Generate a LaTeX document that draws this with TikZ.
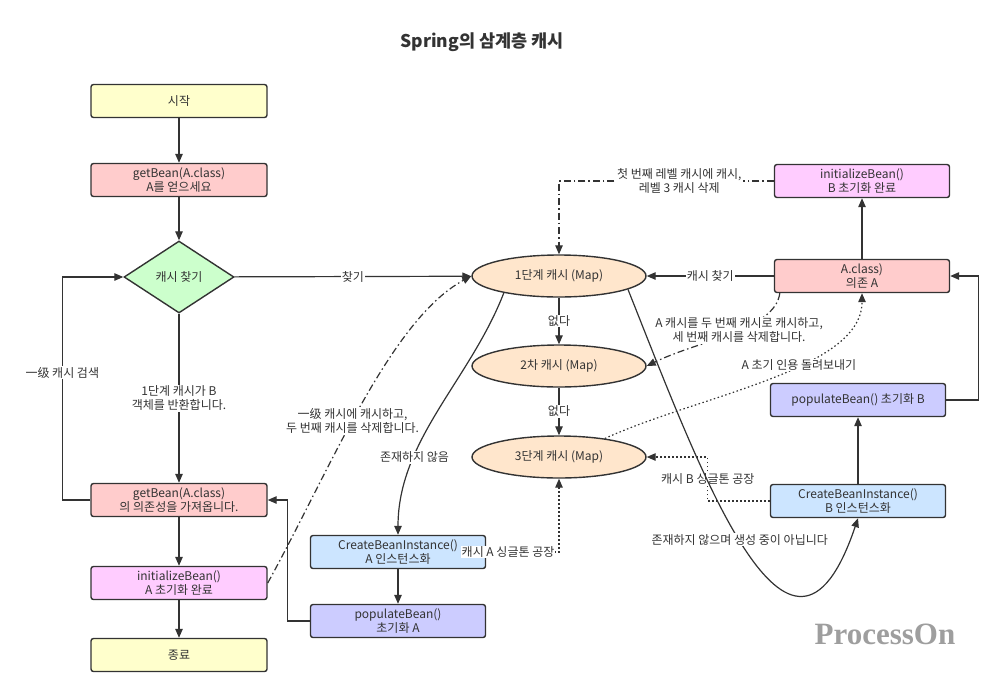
\documentclass[tikz,border=0pt]{standalone}
\usepackage{fontspec}
\setmainfont{Noto Sans CJK KR}
\newfontfamily\markfont{Liberation Serif}
\usetikzlibrary{arrows.meta, positioning, shapes.geometric}

\definecolor{linec}{HTML}{333333}
\definecolor{textc}{HTML}{333333}
\definecolor{yellowc}{HTML}{FFFFCC}
\definecolor{pinkc}{HTML}{FFCCCC}
\definecolor{greenc}{HTML}{CCFFCC}
\definecolor{violetc}{HTML}{FFCCFF}
\definecolor{peachc}{HTML}{FFE6CC}
\definecolor{bluec}{HTML}{CCE5FF}
\definecolor{purplec}{HTML}{CCCCFF}

\begin{document}
\begin{tikzpicture}[
        x=1pt, y=-1pt, on grid, >={Triangle[length=9pt,width=7.5pt]},
        every node/.style={font=\fontsize{12}{14}\selectfont, text=textc},
        box/.style={draw=linec, line width=1.4pt, rounded corners=2.5pt,
          minimum width=176pt, minimum height=33pt, align=center, inner sep=1pt},
        cache/.style={ellipse, draw=linec, line width=1.4pt, fill=peachc,
          minimum width=174pt, minimum height=42pt, inner sep=0pt},
        flow/.style={draw=linec, line width=1.2pt, ->},
        dashline/.style={flow, dash pattern=on 7pt off 3pt on 1.5pt off 3pt},
        dotline/.style={flow, dash pattern=on 1.5pt off 2.5pt},
        lbl/.style={fill=white, inner sep=1pt, align=center}
        ]
        \useasboundingbox (0,0) rectangle (1000,694);

        \node[font=\bfseries\fontsize{17.5}{20}\selectfont] (title) at (482,42) {Spring의 삼계층 캐시};

        % left column
        \node[box, fill=yellowc]                  (start)  at (179,101)         {시작};
        \node[box, fill=pinkc]                    (getA)   [below=79pt of start] {getBean(A.class)\\A를 얻으세요};
        \node[diamond, draw=linec, line width=1.4pt, fill=greenc, aspect=1.5,
              minimum width=110pt, minimum height=72pt, inner sep=0pt]
                                                  (find)   [below=97pt of getA]  {캐시 찾기};
        \node[box, fill=pinkc]                    (getdep) [below=223pt of find] {getBean(A.class)\\의 의존성을 가져옵니다.};
        \node[box, fill=violetc]                  (initA)  [below=83pt of getdep] {initializeBean()\\A 초기화 완료};
        \node[box, fill=yellowc]                  (finish) [below=72pt of initA] {종료};

        % caches
        \node[cache]                              (l1)     at (559,276)          {1단계 캐시 (Map)};
        \node[cache]                              (l2)     [below=90pt of l1]    {2차 캐시 (Map)};
        \node[cache]                              (l3)     [below=91pt of l2]    {3단계 캐시 (Map)};

        % bean A
        \node[box, fill=bluec, minimum width=175pt]   (createA) at (398,552)           {CreateBeanInstance()\\A 인스턴스화};
        \node[box, fill=purplec, minimum width=175pt] (popA)    [below=69pt of createA] {populateBean()\\초기화 A};

        % bean B
        \node[box, fill=violetc, minimum width=175pt] (initB)   at (862,181)           {initializeBean()\\B 초기화 완료};
        \node[box, fill=pinkc, minimum width=175pt]   (Adep)    [below=95pt of initB]  {A.class)\\의존 A};
        \node[box, fill=purplec, minimum width=175pt] (popB)    at (858,400)           {populateBean() 초기화 B};
        \node[box, fill=bluec, minimum width=175pt]   (createB) [below=101pt of popB]  {CreateBeanInstance()\\B 인스턴스화};

        \node[font=\markfont\bfseries\fontsize{31}{34}\selectfont, text=black!38] (mark) at (885,634) {ProcessOn};

        % left flow
        \draw[flow] (start) -- (getA);
        \draw[flow] (getA) -- (find);
        \draw[flow] (find) -- node[lbl] {찾기} (l1);
        \draw[flow] (find) -- node[lbl] {1단계 캐시가 B\\객체를 반환합니다.} (getdep);
        \draw[flow] (getdep.west) -- ++(-28,0) |- node[lbl, pos=0.285] {一级 캐시 검색} (find.west);
        \draw[flow] (getdep) -- (initA);
        \draw[flow] (initA) -- (finish);
        \draw[flow] (createA) -- (popA);
        \draw[flow] (popA.west) -- ++(-22,0) |- (getdep.east);
        \draw[flow] (l1.197) .. controls (470,380) and (398,440) .. node[lbl, pos=0.7] {존재하지 않음} (createA.north);
        \draw[flow] (l1) -- node[lbl] {없다} (l2);
        \draw[flow] (l2) -- node[lbl] {없다} (l3);
        \draw[dashline] (initA.east) .. controls (330,470) and (390,320) .. node[lbl, pos=0.45] {一级 캐시에 캐시하고,\\두 번째 캐시를 삭제합니다.} (l1.west);
        \draw[dotline] (createA.east) -| node[lbl, pos=0.15] {캐시 A 싱글톤 공장} (l3.south);

        % right flow
        \draw[flow] (createB) -- (popB);
        \draw[flow] (popB.east) -- ++(32,0) |- (Adep.east);
        \draw[flow] (Adep) -- (initB);
        \draw[flow] (Adep) -- node[lbl] {캐시 찾기} (l1);
        \draw[dashline] (initB.west) -| node[lbl, pos=0.22] {첫 번째 레벨 캐시에 캐시,\\레벨 3 캐시 삭제} (l1.north);
        \draw[dashline] ([xshift=6pt]Adep.south west) .. controls (775,330) and (700,340) .. node[lbl, pos=0.45] {A 캐시를 두 번째 캐시로 캐시하고,\\세 번째 캐시를 삭제합니다.} (l2.east);
        \draw[dotline] (l3.22) .. controls (700,395) and (862,370) .. node[lbl, pos=0.6] {A 초기 인용 돌려보내기} (Adep.south);
        \draw[dotline] (createB.west) -- ++(-62,0) |- node[lbl, pos=0.25] {캐시 B 싱글톤 공장} (l3.east);
        \draw[flow] (l1.-11) .. controls (700,470) and (790,720) .. node[lbl, pos=0.48] {존재하지 않으며 생성 중이 아닙니다} (createB.south);
      \end{tikzpicture}
\end{document}
